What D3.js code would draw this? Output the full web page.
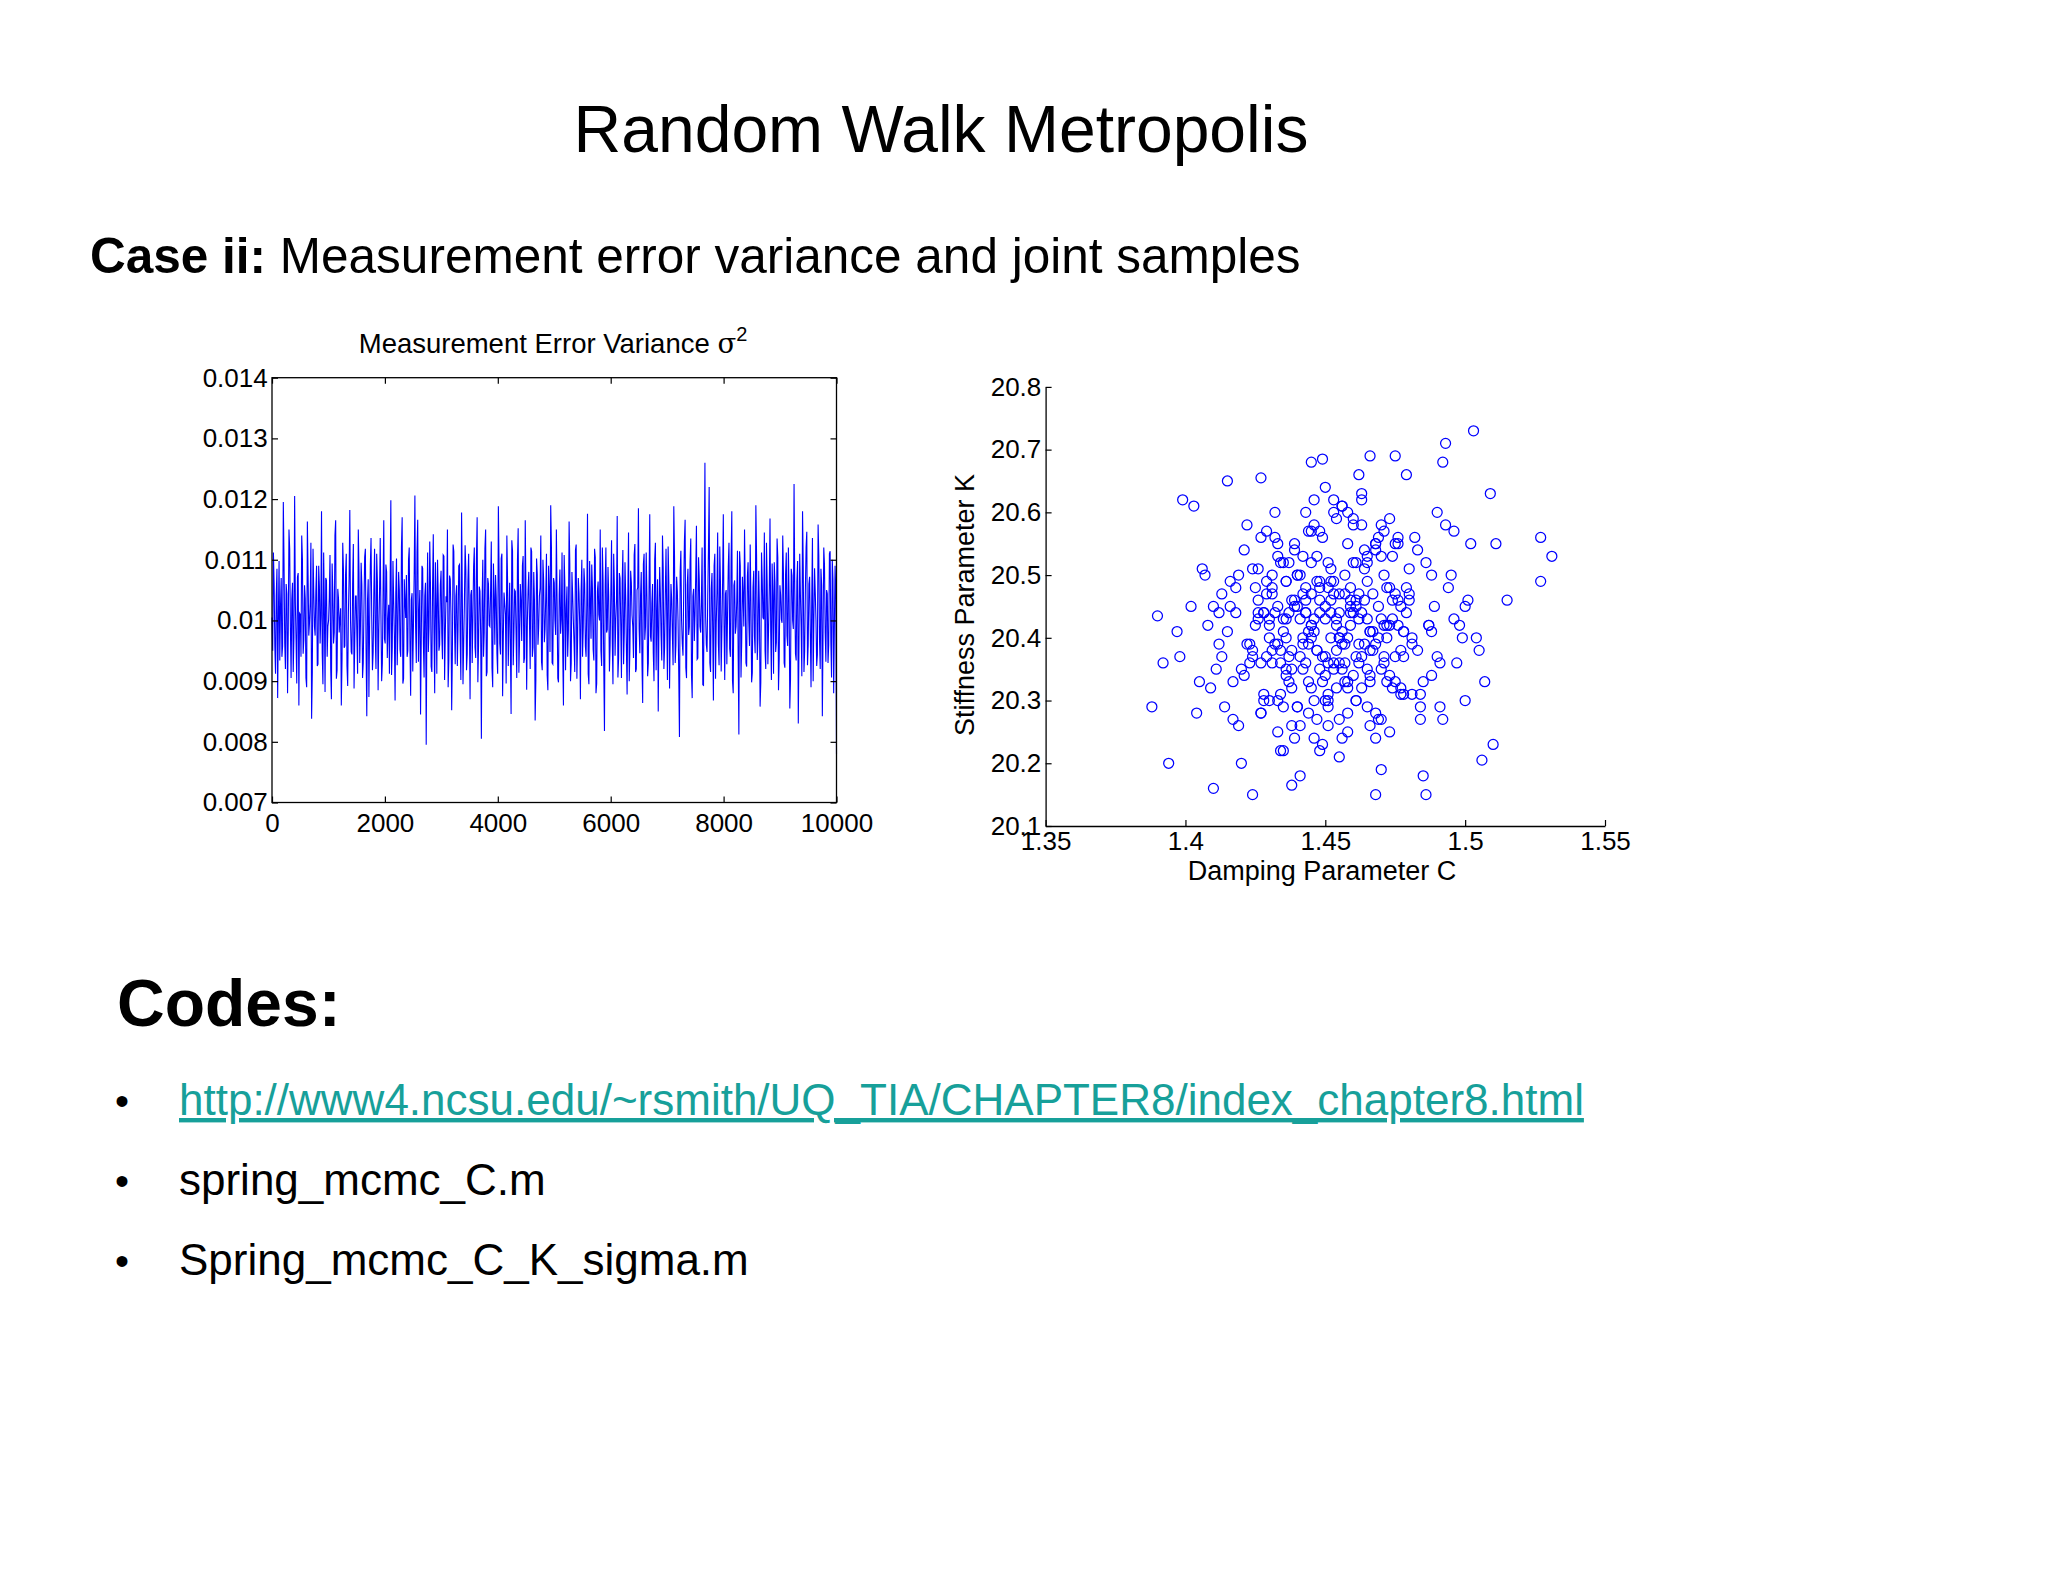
<!DOCTYPE html>
<html><head><meta charset="utf-8">
<script src="https://cdn.jsdelivr.net/npm/d3@7"></script>
<style>body{margin:0;background:#fff}svg{font-family:Arial,"Liberation Sans",Helvetica,sans-serif}</style>
</head><body>
<svg id="s" width="2048" height="1582"></svg>
<script>
// ---- data ----
const traceXTicks = [0,2000,4000,6000,8000,10000];
const traceYTicks = [0.007,0.008,0.009,0.01,0.011,0.012,0.013,0.014];
const traceYTickLabels = ["0.007","0.008","0.009","0.01","0.011","0.012","0.013","0.014"];
// sigma^2 samples (units of 1e-5), thinned; set A at iterations 0,25,50,... ; set B halfway between
const sigma2A_e5 = [
1005,1112,958,1040,872,1098,1021,940,1195,963,1060,880,1150,990,1035,915,1205,968,1072,860,
1010,1140,945,1058,905,1163,975,1030,838,1118,990,1048,925,1090,962,1180,895,1025,1070,940,
1000,1108,870,1045,980,1165,918,1036,1002,860,1128,955,1075,925,1012,1182,948,1060,888,1040,
975,1150,930,1095,905,1021,1118,842,1068,992,1136,918,1050,975,1110,885,1045,1010,930,1165,
962,1080,1000,912,1198,955,1032,868,1102,985,1050,940,1170,904,1030,1075,950,1120,876,1045,
995,1206,930,1166,1010,845,1090,962,1040,795,1112,990,1060,915,1142,880,1025,1100,950,1058,
978,1108,902,1040,1150,935,1068,852,1125,994,1040,925,1090,968,1178,895,1030,1084,945,1110,
870,1050,1005,1120,938,1170,960,1048,805,1100,980,1150,915,1060,990,1130,890,1040,1075,945,
1188,962,1102,875,1046,1010,1140,925,1062,846,1115,980,1048,905,1152,970,1032,1090,930,1165,
886,1050,995,1120,940,1080,835,1102,960,1040,1140,918,1066,986,1110,885,1050,1190,930,1070,
1000,1150,905,1042,978,1112,860,1058,1020,940,1163,900,1080,1000,915,1125,968,1045,870,1100,
990,1060,940,1176,895,1035,1092,952,1118,880,1048,1010,1150,925,1066,818,1120,985,1040,960,
1132,895,1055,1002,1172,938,1070,905,1116,980,1038,878,1145,955,1062,990,1108,915,1050,1185,
946,1080,864,1110,990,1040,930,1175,965,1060,900,1128,1010,850,1088,975,1140,920,1044,1003,
1122,888,1060,975,1188,930,1072,1000,808,1115,962,1048,1166,905,1085,990,1135,872,1052,1010,
1156,938,1068,980,1120,893,1260,960,1040,1220,915,1078,868,1110,995,1145,926,1060,985,1175,
902,1050,1010,1128,940,1180,880,1066,990,1115,812,1090,965,1040,1150,930,1072,1000,1125,898,
1054,975,1190,935,1082,858,1112,1005,1145,920,1060,988,1168,902,1042,1096,948,1135,885,1058,
1002,1140,930,1075,975,1120,855,1085,1000,1225,945,1064,830,1110,990,1180,915,1050,1146,960,
1072,890,1136,1000,1045,925,1158,968,1085,842,1120,980,1050,930,1110,965,1100,880,1090,780
];
const sigma2B_e5 = [
950,1060,912,1085,1002,934,1070,958,1096,920,1044,986,1118,905,1062,972,1030,896,1078,1012,
940,1102,968,1036,890,1074,996,1128,915,1048,975,1090,928,1056,1008,946,1112,882,1066,990,
1038,920,1094,962,1140,904,1052,980,1020,936,1084,958,1110,892,1070,1000,944,1126,966,1040,
912,1080,988,1058,930,1104,950,1032,874,1090,1006,948,1118,920,1064,984,1136,900,1046,970,
1092,938,1026,1060,910,1098,976,1044,926,1080,952,1120,896,1068,1004,940,1100,962,1034,916,
1076,990,1112,932,1050,968,1086,906,1062,1000,948,1130,924,1054,982,1096,912,1040,960,1082,
936,1106,978,1030,890,1074,1010,946,1114,928,1058,986,1092,902,1048,964,1124,918,1066,996,
1042,930,1088,956,1102,898,1056,976,1030,940,1118,908,1070,992,1046,922,1094,960,1038,912,
1084,944,1110,972,1028,896,1066,1004,952,1132,926,1050,980,1098,914,1060,966,1106,938,1044,
998,1080,920,1114,956,1034,902,1076,988,1054,932,1100,964,1040,910,1090,948,1122,928,1062,
976,1036,898,1084,1002,946,1108,918,1056,984,1094,930,1042,962,1116,904,1070,992,1048,940,
1086,958,1026,912,1098,970,1052,934,1104,896,1064,1000,950,1120,924,1058,980,1088,916,1046,
966,1110,942,1032,906,1078,994,1060,928,1096,954,1040,900,1082,1008,938,1126,920,1054,986,
1040,930,1092,968,1112,908,1050,974,1028,946,1100,918,1068,996,1044,934,1086,956,1118,902,
1062,982,1034,926,1106,960,1048,912,1080,1000,942,1130,922,1058,976,1096,910,1040,966,1074,
936,1104,990,1030,894,1070,1006,948,1116,930,1052,984,1090,904,1046,962,1122,916,1064,994,
1044,928,1088,954,1100,900,1058,978,1032,940,1114,906,1072,990,1048,924,1096,958,1036,914,
1082,946,1108,970,1026,898,1068,1002,950,1128,928,1054,982,1094,912,1062,964,1104,936,1042,
996,1078,922,1112,958,1036,904,1074,986,1052,934,1098,966,1042,908,1088,950,1120,926,1060,
978,1034,900,1086,1000,944,1106,920,1058,982,1092,932,1044,960,1114,906,1068,990,1046
];
// joint samples: damping C, stiffness K
const sampleC = [
1.503,1.493,1.527,1.531,1.527,1.388,1.390,1.424,1.468,1.486,1.410,1.438,1.510,1.506,1.399,1.403,1.394,1.515,1.509,1.445,
1.449,1.466,1.475,1.492,1.441,1.415,1.427,1.462,1.479,1.511,1.397,1.392,1.405,1.420,1.435,1.455,1.470,1.485,1.500,1.398,
1.402,1.407,1.412,1.417,1.422,1.428,1.433,1.438,1.443,1.448,1.453,1.458,1.463,1.468,1.473,1.478,1.483,1.488,1.494,1.499,
1.430,1.436,1.442,1.447,1.452,1.457,1.461,1.466,1.471,1.476,1.425,1.421,1.418,1.414,1.481,1.486,1.490,1.496,1.501,1.504,
1.440,1.444,1.449,1.454,1.459,1.464,1.469,1.474,1.434,1.429,1.424,1.419,1.416,1.411,1.408,1.484,1.489,1.493,1.497,1.502,
1.437,1.443,1.446,1.451,1.456,1.460,1.465,1.472,1.477,1.432,1.426,1.423,1.413,1.409,1.404,1.482,1.487,1.491,1.495,1.505,
1.439,1.445,1.450,1.455,1.458,1.462,1.467,1.473,1.478,1.431,1.427,1.421,1.417,1.412,1.406,1.480,1.485,1.490,1.498,1.507,
1.442,1.448,1.453,1.457,1.461,1.465,1.470,1.475,1.436,1.433,1.428,1.424,1.419,1.415,1.410,1.483,1.488,1.492,1.496,1.500,
1.444,1.447,1.452,1.456,1.459,1.463,1.468,1.472,1.438,1.434,1.430,1.426,1.422,1.418,1.479,1.484,1.487,1.491,1.446,1.451,
1.455,1.460,1.464,1.469,1.440,1.435,1.431,1.427,1.423,1.476,1.481,1.445,1.450,1.454,1.458,1.462,1.441,1.437,1.433,1.466,
1.471,1.447,1.452,1.456,1.443,1.439,1.461,1.465,1.449,1.453,1.445,1.457,1.448,1.451,1.444,1.459,1.436,1.468,1.442,1.455,
1.474,1.429,1.477,1.425,1.480,1.420,1.484,1.416,1.488,1.413,1.446,1.450,1.454,1.439,1.463,1.432,1.470,1.458,1.434,1.466,
1.428,1.431,1.434,1.437,1.440,1.443,1.446,1.449,1.452,1.455,1.458,1.461,1.464,1.467,1.470,1.473,1.476,1.479,1.426,1.429,
1.432,1.435,1.438,1.441,1.444,1.447,1.450,1.453,1.456,1.459,1.462,1.465,1.468,1.471,1.474,1.477,1.480,1.427,1.430,1.433,
1.436,1.439,1.442,1.445,1.448,1.451,1.454,1.457,1.460,1.463,1.466,1.469,1.472,1.475,1.478,1.424,1.427,1.430,1.433,1.436,
1.439,1.442,1.445,1.448,1.451,1.454,1.457,1.460,1.463,1.466,1.469,1.472,1.475,1.478,1.481,1.429,1.432,1.435,1.438,1.441,
1.444,1.447,1.450,1.453,1.456,1.459,1.462,1.465,1.468,1.471,1.474,1.477,1.431,1.434,1.437,1.440,1.443,1.446,1.449,1.452,
1.455,1.458,1.461,1.464,1.467,1.470,1.473,1.476,1.428,1.433,1.438,1.443,1.448,1.453,1.458,1.463,1.468,1.473,1.445,1.451,
1.436,1.441,1.446,1.451,1.456,1.461,1.466,1.471,1.431,1.426,1.440,1.450,1.460,1.470,1.435,1.445,1.455,1.465,1.475,1.448
];
const sampleK = [
20.73,20.71,20.56,20.53,20.49,20.29,20.435,20.15,20.15,20.15,20.16,20.165,20.23,20.205,20.62,20.61,20.20,20.46,20.63,20.68,
20.685,20.69,20.69,20.68,20.18,20.65,20.655,20.66,20.66,20.55,20.41,20.36,20.33,20.20,20.22,20.21,20.19,20.18,20.30,20.37,
20.45,20.50,20.39,20.27,20.58,20.30,20.55,20.26,20.60,20.22,20.62,20.28,20.63,20.24,20.59,20.31,20.54,20.34,20.48,20.40,
20.42,20.35,20.47,20.38,20.44,20.33,20.52,20.41,20.36,20.46,20.48,20.34,20.44,20.29,20.40,20.52,20.37,20.43,20.46,20.40,
20.50,20.28,20.56,20.32,20.45,20.39,20.27,20.53,20.31,20.57,20.38,20.26,20.49,20.35,20.42,20.31,20.45,20.58,20.36,20.55,
20.37,20.46,20.30,20.52,20.41,20.58,20.35,20.48,20.31,20.44,20.51,20.39,20.47,20.32,20.28,20.56,20.42,20.29,20.50,20.38,
20.55,20.32,20.43,20.27,20.60,20.39,20.47,20.25,20.41,20.36,20.28,20.54,20.33,20.44,20.51,20.47,20.33,20.60,20.42,20.33,
20.40,20.57,20.36,20.47,20.30,20.53,20.43,20.37,20.49,20.25,20.44,20.37,20.50,20.41,20.45,20.38,20.50,20.27,20.57,20.45,
20.33,20.49,20.40,20.24,20.46,20.37,20.55,20.42,20.38,20.52,20.30,20.43,20.39,20.48,20.44,20.29,20.42,20.36,20.62,20.26,
20.44,20.34,20.51,20.40,20.45,20.29,20.48,20.56,20.36,20.55,20.39,20.52,20.37,20.43,20.32,20.47,20.43,20.33,20.45,20.41,
20.50,20.38,20.46,20.61,20.36,20.46,20.37,20.43,20.23,20.35,20.42,20.39,20.49,20.30,20.57,20.44,20.40,20.28,20.53,20.47,
20.43,20.49,20.38,20.42,20.46,20.35,20.27,20.45,20.41,20.37,20.24,20.64,20.59,20.24,20.62,20.60,20.58,20.25,20.22,20.26,
20.31,20.47,20.36,20.52,20.29,20.44,20.58,20.33,20.49,20.40,20.55,20.30,20.46,20.38,20.53,20.34,20.42,20.48,20.44,20.37,
20.56,20.41,20.32,20.50,20.39,20.27,20.45,20.60,20.35,20.48,20.43,20.29,20.54,20.37,20.46,20.32,20.51,20.28,20.40,20.53,
20.34,20.45,20.39,20.57,20.48,20.31,20.42,20.36,20.52,20.44,20.38,20.56,20.33,20.47,20.41,20.51,20.36,20.43,20.30,20.49,
20.54,20.35,20.42,20.46,20.29,20.38,20.50,20.44,20.58,20.33,20.45,20.40,20.55,20.37,20.31,20.47,20.39,20.52,20.35,20.26,
20.41,20.53,20.34,20.47,20.61,20.42,20.36,20.49,20.39,20.57,20.32,20.45,20.50,20.38,20.44,20.29,20.48,20.43,20.37,20.51,
20.40,20.33,20.46,20.54,20.41,20.35,20.48,20.56,20.44,20.39,20.46,20.44,20.35,20.49,20.40,20.32,20.55,20.42,20.47,20.36,
20.43,20.37,20.41,20.48,20.39,20.45,20.34,20.42,20.38,20.46,20.50,20.30,20.59,20.27,20.43,20.40,20.36,20.52,20.33,20.44
];
const scatXTicks = [1.35,1.4,1.45,1.5,1.55];
const scatXTickLabels = ["1.35","1.4","1.45","1.5","1.55"];
const scatYTicks = [20.1,20.2,20.3,20.4,20.5,20.6,20.7,20.8];
const bullets = ["http://www4.ncsu.edu/~rsmith/UQ_TIA/CHAPTER8/index_chapter8.html","spring_mcmc_C.m","Spring_mcmc_C_K_sigma.m"];

// ---- drawing ----
const svg = d3.select("#s");
svg.append("text").attr("x",941).attr("y",152).attr("text-anchor","middle").attr("font-size",66).text("Random Walk Metropolis");
const sub = svg.append("text").attr("x",90).attr("y",273).attr("font-size",49.5);
sub.append("tspan").attr("font-weight","bold").text("Case ii:");
sub.append("tspan").text(" Measurement error variance and joint samples");

// trace plot: merge the two thinned sets in iteration order
const step = 25;
const trace = [];
sigma2A_e5.forEach((v,i)=>{
  trace.push({it:i*step, v:v*1e-5});
  if (i < sigma2B_e5.length) trace.push({it:i*step+step/2, v:sigma2B_e5[i]*1e-5});
});
const lastIt = trace[trace.length-1].it;
const L={x0:272,x1:836.5,y0:377.7,y1:802.5};
const tx=d3.scaleLinear().domain([0,10000]).range([L.x0,L.x1]);
const ty=d3.scaleLinear().domain([0.007,0.014]).range([L.y1,L.y0]);
const g1=svg.append("g");
g1.append("path").datum(trace).attr("fill","none").attr("stroke","#0000ff").attr("stroke-width",1.1)
  .attr("d",d3.line().x(d=>tx(d.it*10000/lastIt)).y(d=>ty(d.v)));
g1.append("rect").attr("x",L.x0).attr("y",L.y0).attr("width",L.x1-L.x0).attr("height",L.y1-L.y0).attr("fill","none").attr("stroke","#000").attr("stroke-width",1.3);
const ax1=g1.append("g").attr("transform",`translate(0,${L.y1})`).call(d3.axisBottom(tx).tickValues(traceXTicks).tickFormat(d3.format("d")).tickSizeInner(-6).tickSizeOuter(0));
const ay1=g1.append("g").attr("transform",`translate(${L.x0},0)`).call(d3.axisLeft(ty).tickValues(traceYTicks).tickFormat((d,i)=>traceYTickLabels[i]).tickSizeInner(-6).tickSizeOuter(0));
g1.append("g").attr("transform",`translate(0,${L.y0})`).call(d3.axisTop(tx).tickValues(traceXTicks).tickFormat("").tickSizeInner(-6).tickSizeOuter(0));
g1.append("g").attr("transform",`translate(${L.x1},0)`).call(d3.axisRight(ty).tickValues(traceYTicks).tickFormat("").tickSizeInner(-6).tickSizeOuter(0));
ax1.selectAll("text").attr("font-size",26).attr("dy","1.0em");
ay1.selectAll("text").attr("font-size",26).attr("dx","-0.05em");
g1.selectAll(".domain").remove();
const t1=svg.append("text").attr("x",553).attr("y",353).attr("text-anchor","middle").attr("font-size",27.5).text("Measurement Error Variance ");
t1.append("tspan").attr("font-family","'DejaVu Serif',serif").text("σ");
t1.append("tspan").attr("dy",-12).attr("font-size",20).text("2");

// scatter plot
const R={x0:1045.6,x1:1605,y0:386.9,y1:826};
const sx=d3.scaleLinear().domain([1.35,1.55]).range([R.x0,R.x1]);
const sy=d3.scaleLinear().domain([20.1,20.8]).range([R.y1,R.y0]);
const g2=svg.append("g");
g2.selectAll("circle").data(sampleC).join("circle").attr("cx",d=>sx(d)).attr("cy",(d,i)=>sy(sampleK[i]))
  .attr("r",5).attr("fill","none").attr("stroke","#0000ff").attr("stroke-width",1.25);
const ax2=g2.append("g").attr("transform",`translate(0,${R.y1})`).call(d3.axisBottom(sx).tickValues(scatXTicks).tickFormat((d,i)=>scatXTickLabels[i]).tickSizeInner(-6).tickSizeOuter(0));
const ay2=g2.append("g").attr("transform",`translate(${R.x0},0)`).call(d3.axisLeft(sy).tickValues(scatYTicks).tickFormat(d3.format(".1f")).tickSizeInner(-6).tickSizeOuter(0));
ax2.selectAll("text").attr("font-size",26).attr("dy","0.8em");
ay2.selectAll("text").attr("font-size",26).attr("dx","-0.05em");
g2.selectAll(".domain").attr("stroke-width",1.3);
svg.selectAll(".tick line").attr("stroke-width",1.2);
svg.append("text").attr("x",1322).attr("y",880).attr("text-anchor","middle").attr("font-size",27).text("Damping Parameter C");
svg.append("text").attr("transform","translate(974,605) rotate(-90)").attr("text-anchor","middle").attr("font-size",27).text("Stiffness Parameter K");

// codes
svg.append("text").attr("x",117).attr("y",1026).attr("font-size",66).attr("font-weight","bold").text("Codes:");
bullets.forEach((b,i)=>{
  const y=1115+i*80;
  svg.append("text").attr("x",115).attr("y",y).attr("font-size",40).text("•");
  const t=svg.append("text").attr("x",179).attr("y",y).attr("font-size",44).text(b);
  if(i===0) t.attr("fill","#17a09a").attr("text-decoration","underline");
});
</script>
</body></html>
